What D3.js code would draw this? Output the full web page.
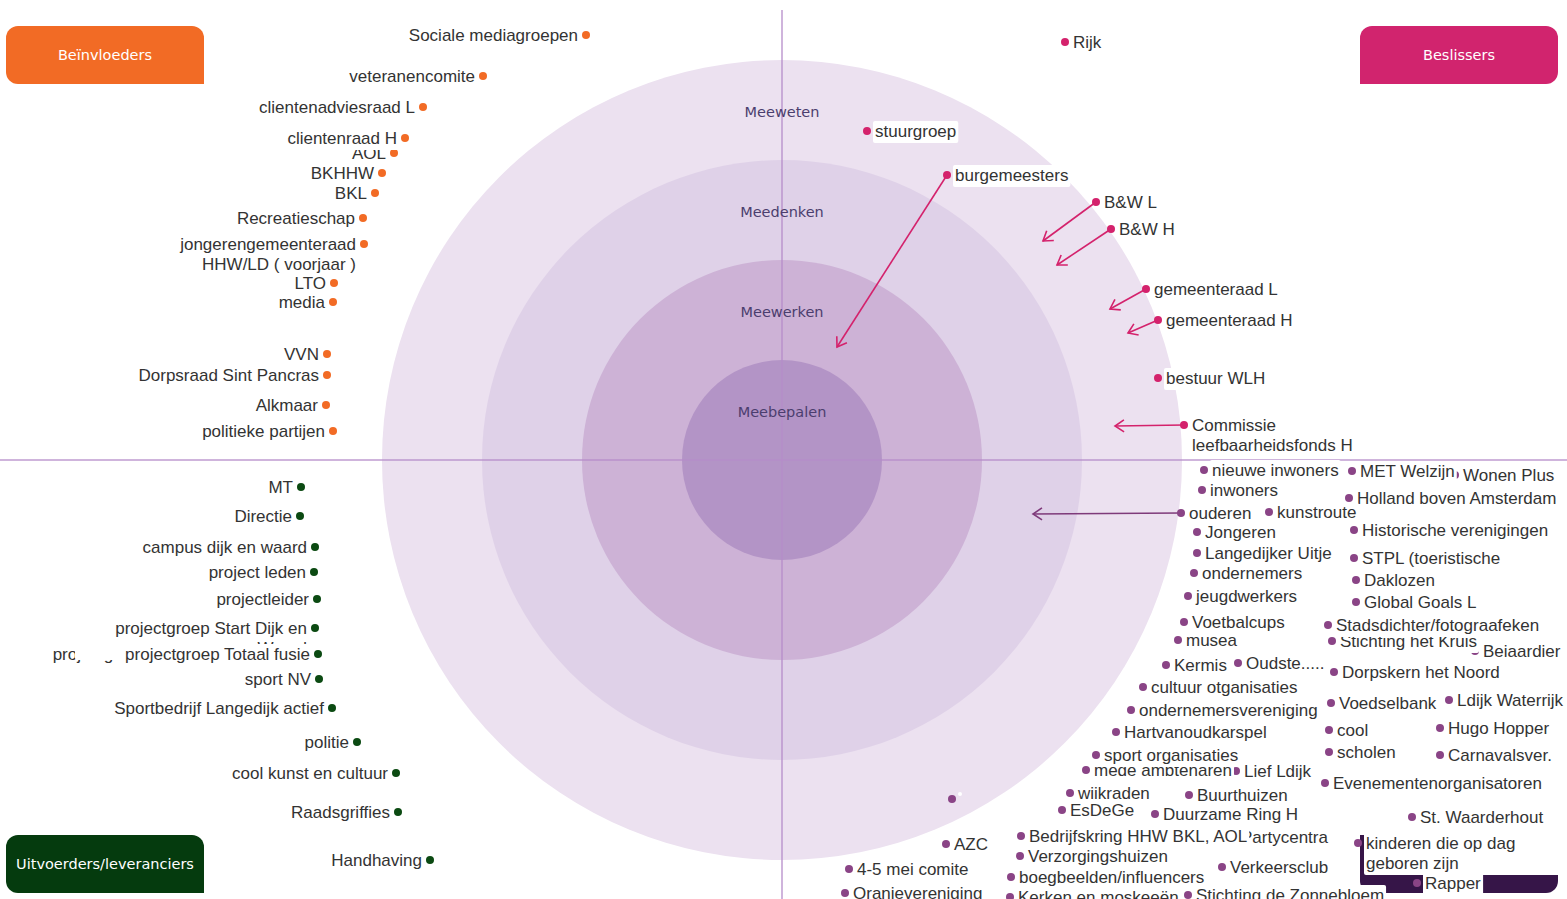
<!DOCTYPE html>
<html>
<head>
<meta charset="utf-8">
<script src="https://cdn.jsdelivr.net/npm/d3@7"></script>
<style>
body { margin: 0; background: #fff; overflow: hidden; }
text { font-family: "Liberation Sans", Arial, sans-serif; }
</style>
</head>
<body>
<script>
var width = 1567, height = 899;

// ring levels, inner to outer
var rings = ["Meebepalen", "Meewerken", "Meedenken", "Meeweten"];
var ringColors = ["#b394c6", "#cdb2d6", "#dfd1e8", "#ece1f0"];

// quadrant boxes: tl, tr, bl, br
var categories = ["Beïnvloeders", "Beslissers", "Uitvoerders/leveranciers", ""];
var categoryColors = ["#f26b25", "#d1246e", "#053b0e", "#361548"];

// stakeholders: [label, x, y] in ring units (outer ring = 4)
var beinvloeders = [
    ["Sociale mediagroepen", -1.96, 4.25],
    ["veteranencomite", -2.99, 3.84],
    ["clientenadviesraad L", -3.59, 3.53],
    ["AOL", -3.88, 3.07],
    ["clientenraad H", -3.77, 3.22],
    ["BKHHW", -4.00, 2.87],
    ["BKL", -4.07, 2.67],
    ["Recreatieschap", -4.19, 2.42],
    ["jongerengemeenteraad\nHHW/LD ( voorjaar )", -4.18, 2.16],
    ["LTO", -4.48, 1.77],
    ["media", -4.49, 1.58],
    ["VVN", -4.55, 1.06],
    ["Dorpsraad Sint Pancras", -4.55, 0.85],
    ["Alkmaar", -4.56, 0.55],
    ["politieke partijen", -4.49, 0.29]
];

var uitvoerders = [
    ["MT", -4.81, -0.27],
    ["Directie", -4.82, -0.56],
    ["campus dijk en waard", -4.67, -0.87],
    ["project leden", -4.68, -1.12],
    ["projectleider", -4.65, -1.39],
    ["projectgroep Dijk en Waard", -5.16, -1.94],
    ["projectgroep Start Dijk en\nWaard", -4.67, -1.68],
    ["projectgroep Totaal fusie", -4.64, -1.94],
    ["sport NV", -4.63, -2.19],
    ["Sportbedrijf Langedijk actief", -4.50, -2.48],
    ["politie", -4.25, -2.82],
    ["cool kunst en cultuur", -3.86, -3.13],
    ["Raadsgriffies", -3.84, -3.52],
    ["Handhaving", -3.52, -4.00]
];

var beslissers = [
    ["Rijk", 2.83, 4.18],
    ["stuurgroep", 0.85, 3.29],
    ["burgemeesters", 1.65, 2.85],
    ["B&W L", 3.14, 2.58],
    ["B&W H", 3.29, 2.31],
    ["gemeenteraad L", 3.64, 1.71],
    ["gemeenteraad H", 3.76, 1.40],
    ["bestuur WLH", 3.76, 0.82],
    ["Commissie\nleefbaarheidsfonds H", 4.02, 0.35]
];

// where a stakeholder should move to: [label, fromX, fromY, toX, toY]
var beslissersMoves = [
    ["burgemeesters", 1.65, 2.85, 0.55, 1.13],
    ["B&W L", 3.14, 2.58, 2.61, 2.19],
    ["B&W H", 3.29, 2.31, 2.75, 1.95],
    ["gemeenteraad L", 3.64, 1.71, 3.28, 1.51],
    ["gemeenteraad H", 3.76, 1.40, 3.46, 1.27],
    ["Commissie leefbaarheidsfonds H", 4.02, 0.35, 3.33, 0.34]
];

var overigen = [
    ["nieuwe inwoners", 4.22, -0.10],
    ["Wonen Plus", 6.73, -0.15],
    ["MET Welzijn", 5.70, -0.11],
    ["inwoners", 4.20, -0.30],
    ["Holland boven Amsterdam", 5.67, -0.38],
    ["ouderen", 3.99, -0.53],
    ["kunstroute", 4.87, -0.52],
    ["Jongeren", 4.15, -0.72],
    ["Historische verenigingen", 5.72, -0.70],
    ["Langedijker Uitje", 4.15, -0.93],
    ["STPL (toeristische", 5.72, -0.98],
    ["ondernemers", 4.12, -1.13],
    ["Daklozen", 5.74, -1.20],
    ["jeugdwerkers", 4.06, -1.36],
    ["Global Goals L", 5.74, -1.42],
    ["Voetbalcups", 4.02, -1.62],
    ["musea", 3.96, -1.80],
    ["Beiaardier", 6.93, -1.91],
    ["Stichting het Kruis", 5.50, -1.81],
    ["Stadsdichter/fotograafeken", 5.46, -1.65],
    ["Kermis", 3.84, -2.05],
    ["Oudste.....", 4.56, -2.03],
    ["Dorpskern het Noord", 5.52, -2.12],
    ["cultuur otganisaties", 3.61, -2.27],
    ["Voedselbank", 5.49, -2.43],
    ["Ldijk Waterrijk", 6.67, -2.40],
    ["ondernemersvereniging", 3.49, -2.50],
    ["Hartvanoudkarspel", 3.34, -2.72],
    ["cool", 5.47, -2.70],
    ["Hugo Hopper", 6.58, -2.68],
    ["scholen", 5.47, -2.92],
    ["Carnavalsver.", 6.58, -2.95],
    ["Lief Ldijk", 4.54, -3.11],
    ["mede ambtenaren", 3.04, -3.10],
    ["sport organisaties", 3.14, -2.95],
    ["Evenementenorganisatoren", 5.43, -3.23],
    ["", 1.70, -3.39],
    ["wiikraden", 2.88, -3.33],
    ["Buurthuizen", 4.07, -3.35],
    ["EsDeGe", 2.80, -3.50],
    ["Duurzame Ring H", 3.73, -3.54],
    ["St. Waarderhout", 6.30, -3.57],
    ["AZC", 1.64, -3.84],
    ["Partycentra", 4.51, -3.77],
    ["Bedrijfskring HHW BKL, AOL", 2.39, -3.76],
    ["kinderen die op dag\ngeboren zijn", 5.76, -3.83],
    ["Verzorgingshuizen", 2.38, -3.96],
    ["4-5 mei comite", 0.67, -4.09],
    ["Verkeersclub", 4.40, -4.07],
    ["boegbeelden/influencers", 2.29, -4.17],
    ["Rapper", 6.35, -4.23],
    ["Oranjevereniging", 0.63, -4.33],
    ["Kerken en moskeeën", 2.28, -4.37],
    ["Stichting de Zonnebloem", 4.06, -4.35]
];

var overigenMoves = [
    ["ouderen", 3.99, -0.53, 2.51, -0.54]
];

var x = d3.scaleLinear().domain([-4, 4]).range([382, 1182]);
var y = d3.scaleLinear().domain([-4, 4]).range([860, 60]);
var cx = x(0), cy = y(0);

var svg = d3.select("body").append("svg")
    .attr("width", width)
    .attr("height", height)

// Rings, outer first
var ringData = rings.map(function(name, i) { return { name: name, level: i + 1, color: ringColors[i] } });
svg.selectAll("circle.ring")
    .data(ringData.slice().reverse())
    .enter().append("circle")
    .attr("class", "ring")
    .attr("cx", cx)
    .attr("cy", cy)
    .attr("r", function(d) { return x(d.level) - cx })
    .style("fill", function(d) { return d.color })

// Axes through the centre
svg.append("line")
    .attr("x1", cx).attr("x2", cx)
    .attr("y1", 10).attr("y2", height)
    .style("stroke", "#b68cc9").style("stroke-opacity", 0.65).style("stroke-width", 2)
svg.append("line")
    .attr("x1", 0).attr("x2", width)
    .attr("y1", cy).attr("y2", cy)
    .style("stroke", "#b68cc9").style("stroke-opacity", 0.65).style("stroke-width", 2)

svg.selectAll("text.ring")
    .data(ringData)
    .enter().append("text")
    .attr("class", "ring")
    .attr("x", cx)
    .attr("y", function(d) { return y(d.level - 0.5) + 7 })
    .attr("text-anchor", "middle")
    .style("font-family", "Verdana, 'DejaVu Sans', sans-serif")
    .style("font-size", "14.5px")
    .style("fill", "#4b3e6e")
    .text(function(d) { return d.name })

// Quadrant boxes
function boxPath(x0, y0, w, h, r, c) {
    // c = radii flags [tl, tr, br, bl]
    var a = c[0] * r, b = c[1] * r, e = c[2] * r, f = c[3] * r;
    return "M" + (x0 + a) + "," + y0 +
        "H" + (x0 + w - b) + (b ? "A" + b + "," + b + " 0 0 1 " + (x0 + w) + "," + (y0 + b) : "") +
        "V" + (y0 + h - e) + (e ? "A" + e + "," + e + " 0 0 1 " + (x0 + w - e) + "," + (y0 + h) : "") +
        "H" + (x0 + f) + (f ? "A" + f + "," + f + " 0 0 1 " + x0 + "," + (y0 + h - f) : "") +
        "V" + (y0 + a) + (a ? "A" + a + "," + a + " 0 0 1 " + (x0 + a) + "," + y0 : "") + "Z";
}
var boxW = 198, boxH = 58;
var boxes = [
    { x: 6, y: 26, c: [1, 1, 0, 1] },
    { x: width - 207, y: 26, c: [1, 1, 1, 0] },
    { x: 6, y: 835, c: [1, 1, 0, 1] },
    { x: width - 207, y: 835, c: [0, 1, 1, 1] }
];
boxes.forEach(function(b, i) {
    svg.append("path")
        .attr("d", boxPath(b.x, b.y, boxW, boxH, 12, b.c))
        .style("fill", categoryColors[i])
    svg.append("text")
        .attr("x", b.x + boxW / 2)
        .attr("y", b.y + boxH / 2 + 5)
        .attr("text-anchor", "middle")
        .style("font-family", "Verdana, 'DejaVu Sans', sans-serif")
        .style("font-size", "14.5px")
        .style("fill", "#fff")
        .text(categories[i])
});

// Arrow markers
function marker(id, color) {
    svg.append("defs").append("marker")
        .attr("id", id)
        .attr("viewBox", "-11 -7 13 14")
        .attr("refX", 0).attr("refY", 0)
        .attr("markerUnits", "userSpaceOnUse")
        .attr("markerWidth", 13).attr("markerHeight", 14)
        .attr("orient", "auto")
        .append("path")
        .attr("d", "M-9,-6L0,0L-9,6")
        .style("fill", "none")
        .style("stroke", color)
        .style("stroke-width", 1.6)
}
marker("arrow-pink", "#d4226c");
marker("arrow-purple", "#7e3a7a");

function drawMoves(list, color, id) {
    list.forEach(function(d) {
        svg.append("line")
            .attr("x1", x(d[1])).attr("y1", y(d[2]))
            .attr("x2", x(d[3])).attr("y2", y(d[4]))
            .attr("marker-end", "url(#" + id + ")")
            .style("stroke", color)
            .style("stroke-width", 1.6)
    });
}
drawMoves(beslissersMoves, "#d4226c", "arrow-pink");
drawMoves(overigenMoves, "#7e3a7a", "arrow-purple");

// Labels with white backgrounds, drawn in order so later ones cover earlier ones
var labelLayer = svg.append("g");
var wrapBox = 230;

function drawLabels(list, color, anchor) {
    list.forEach(function(d) {
        var px = x(d[1]), py = y(d[2]);
        var tx = anchor === "end" ? px - 8 : px + 8;
        var g = labelLayer.append("g");
        var bg = g.append("rect").style("fill", "#fff").attr("rx", 2);
        var t = g.append("text")
            .attr("text-anchor", anchor)
            .style("font-size", "17px")
            .style("fill", "#333")
        var lines = d[0].split("\n");
        lines.forEach(function(s, i) {
            t.append("tspan").attr("x", tx).attr("y", py + 6 + i * 20).text(s)
        });
        var w = lines.length > 1 ? wrapBox : (d[0] ? t.node().getBBox().width : 0);
        var h = d[0] ? lines.length * 20 + 2 : 4;
        bg.attr("x", anchor === "end" ? tx - w - 2 : tx - 2)
            .attr("y", d[0] ? py - 10 : py - 7)
            .attr("width", w + 4)
            .attr("height", h)
        g.append("circle")
            .attr("cx", px).attr("cy", py).attr("r", 4)
            .style("fill", color)
    });
}
drawLabels(beinvloeders, "#f26b25", "end");
drawLabels(uitvoerders, "#0b4a12", "end");
drawLabels(beslissers, "#d4226c", "start");
drawLabels(overigen, "#8a4486", "start");
</script>
</body>
</html>
